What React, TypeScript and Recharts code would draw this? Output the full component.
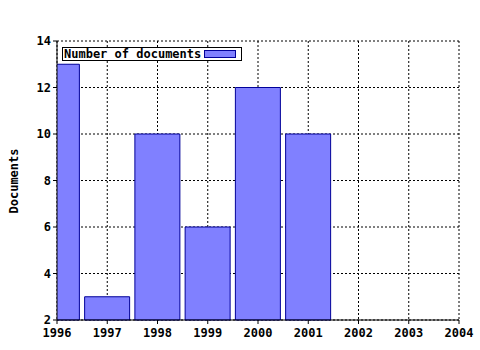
import React from 'react';
import { BarChart, Bar, XAxis, YAxis, CartesianGrid, Legend } from 'recharts';

const years = [1996, 1997, 1998, 1999, 2000, 2001];
const documents = [13, 3, 10, 6, 12, 10];
const xTicks = [1996, 1997, 1998, 1999, 2000, 2001, 2002, 2003, 2004];
const yTicks = [2, 4, 6, 8, 10, 12, 14];
// quarter-year minor ticks between the labelled years
const minorXTicks = xTicks.slice(0, -1).flatMap((y) => [y + 0.25, y + 0.5, y + 0.75]);

const data = years.map((year, i) => ({ year, documents: documents[i] }));

const FONT = '"DejaVu Sans Mono", monospace';
const FILL = '#8080ff';
const EDGE = '#000099';
const tickStyle = { fill: '#000', fontSize: 12, fontWeight: 'bold' as const, fontFamily: FONT };

function LegendBox() {
  return (
    <div
      style={{
        display: 'inline-flex',
        alignItems: 'center',
        border: '1px solid #000',
        background: '#fff',
        height: 12,
        padding: '0 5px 0 1px',
        fontFamily: FONT,
        fontSize: 12,
        fontWeight: 'bold',
        lineHeight: '12px',
        color: '#000',
      }}
    >
      <span>Number of documents</span>
      <span
        style={{
          display: 'inline-block',
          width: 30,
          height: 6,
          background: FILL,
          border: `1px solid ${EDGE}`,
          marginLeft: 3,
        }}
      />
    </div>
  );
}

export default function App() {
  return (
    <div style={{ position: 'absolute', left: 0, top: 0, background: '#fff' }}>
      <BarChart
        width={480}
        height={350}
        data={data}
        margin={{ top: 41, right: 21, bottom: 0, left: 0 }}
        barCategoryGap="5%"
      >
        <CartesianGrid stroke="#000" strokeDasharray="2 2" />
        <XAxis
          xAxisId="minor"
          type="number"
          dataKey="year"
          domain={[1996, 2004]}
          ticks={minorXTicks}
          interval={0}
          height={0}
          tick={false}
          tickSize={3}
          tickLine={{ stroke: '#000' }}
          axisLine={false}
        />
        <XAxis
          type="number"
          dataKey="year"
          domain={[1996, 2004]}
          ticks={xTicks}
          interval={0}
          allowDataOverflow
          height={30}
          tickSize={4}
          tickMargin={4}
          tick={tickStyle}
          tickLine={{ stroke: '#000' }}
          axisLine={{ stroke: '#000' }}
        />
        <XAxis
          xAxisId="topMinor"
          orientation="top"
          type="number"
          dataKey="year"
          domain={[1996, 2004]}
          ticks={minorXTicks}
          interval={0}
          height={0}
          tick={false}
          tickSize={2}
          tickLine={{ stroke: '#000' }}
          axisLine={false}
        />
        <XAxis
          xAxisId="top"
          orientation="top"
          type="number"
          dataKey="year"
          domain={[1996, 2004]}
          ticks={xTicks}
          interval={0}
          height={0}
          tick={false}
          tickSize={4}
          tickLine={{ stroke: '#000' }}
          axisLine={{ stroke: '#000' }}
        />
        <YAxis
          type="number"
          domain={[2, 14]}
          ticks={yTicks}
          interval={0}
          width={57}
          tickSize={4}
          tickMargin={2}
          tick={tickStyle}
          tickLine={{ stroke: '#000' }}
          axisLine={{ stroke: '#000' }}
          label={{
            content: () => (
              <text
                x={14}
                y={181}
                transform="rotate(-90 14 181)"
                textAnchor="middle"
                dominantBaseline="central"
                fontFamily={FONT}
                fontSize={12}
                fontWeight="bold"
                fill="#000"
              >
                Documents
              </text>
            ),
          }}
        />
        <YAxis
          yAxisId="right"
          orientation="right"
          type="number"
          domain={[2, 14]}
          width={0}
          tick={false}
          tickLine={false}
          axisLine={{ stroke: '#000' }}
        />
        <Legend
          layout="vertical"
          align="center"
          verticalAlign="middle"
          content={() => <LegendBox />}
          wrapperStyle={{ left: 62, top: 44, width: 'auto', height: 'auto' }}
        />
        <Bar dataKey="documents" fill={FILL} stroke={EDGE} isAnimationActive={false} />
      </BarChart>
    </div>
  );
}
